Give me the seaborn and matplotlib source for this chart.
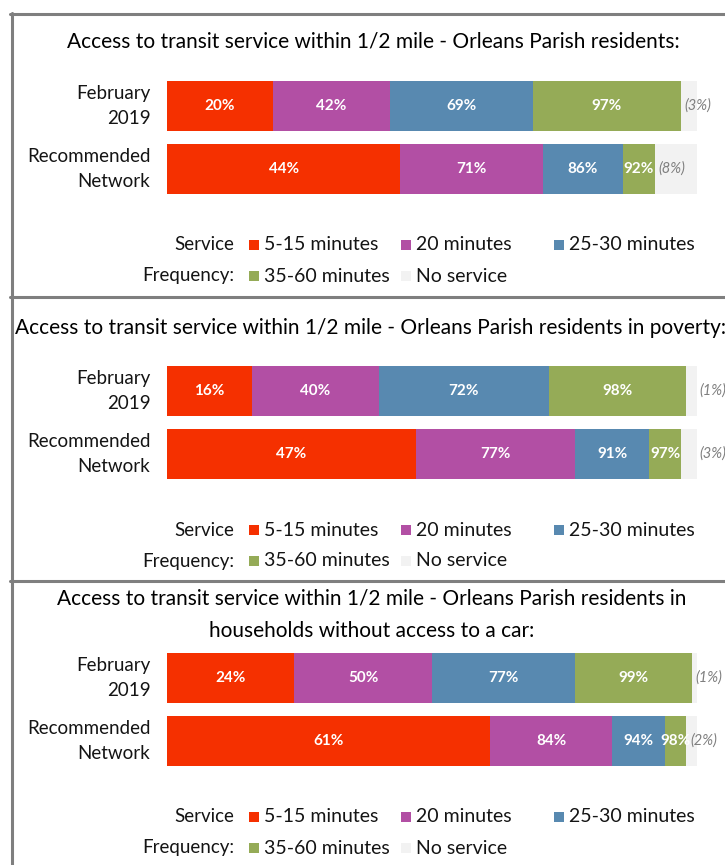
import matplotlib
matplotlib.use('Agg')
import matplotlib.pyplot as plt
import seaborn as sns
import pandas as pd
from matplotlib.patches import Rectangle
from matplotlib.lines import Line2D

sns.set_theme(style='white')
plt.rcParams['font.family'] = ['Lato', 'DejaVu Sans']

# ---------------- data ----------------
periods = ['February\n2019', 'Recommended\nNetwork']
bands = ['5-15 minutes', '20 minutes', '25-30 minutes', '35-60 minutes', 'No service']
band_colors = ['#F53000', '#B24FA4', '#5889B0', '#95AB57', '#F2F2F2']

titles = [
    'Access to transit service within 1/2 mile - Orleans Parish residents:',
    'Access to transit service within 1/2 mile - Orleans Parish residents in poverty:',
    'Access to transit service within 1/2 mile - Orleans Parish residents in\nhouseholds without access to a car:',
]

# cumulative share (%) reached by each frequency band (5-15, 20, 25-30, 35-60)
residents_feb = [20, 42, 69, 97]
residents_rec = [44, 71, 86, 92]
residents_none = [3, 8]

poverty_feb = [16, 40, 72, 98]
poverty_rec = [47, 77, 91, 97]
poverty_none = [1, 3]

nocar_feb = [24, 50, 77, 99]
nocar_rec = [61, 84, 94, 98]
nocar_none = [1, 2]

total = 100

panels = [
    (residents_feb, residents_rec, residents_none),
    (poverty_feb, poverty_rec, poverty_none),
    (nocar_feb, nocar_rec, nocar_none),
]

# ---------------- layout (pixels) ----------------
W, H = 725, 865
fig = plt.figure(figsize=(W / 100, H / 100), dpi=100)
fig.patch.set_facecolor('white')

def fx(x):
    return x / W

def fy(y):
    return 1 - y / H

panel_shift = [0, 285, 572]
bar_x0, bar_x1 = 167, 697
bar_c0, bar_c1 = 106, 169
title_y = [42, 328, 615]
title_x = [373, 15, 372]
title_ha = ['center', 'left', 'center']
legend_rows = [245, 276]
legend_cols = [249, 401, 554]
none_anchor = ['start', 'end', 'start']

text_dark = '#141414'
grey_lab = '#7F7F7F'

for i, (feb, rec, none) in enumerate(panels):
    s = panel_shift[i]
    top = bar_c0 + s - 31.5
    bottom = bar_c1 + s + 31.5
    ax = fig.add_axes([fx(bar_x0), fy(bottom), fx(bar_x1 - bar_x0), (bottom - top) / H])

    rows = []
    for p, vals in zip(periods, [feb, rec]):
        for b, v in zip(bands[:4], vals):
            rows.append({'period': p, 'band': b, 'cum': v})
        rows.append({'period': p, 'band': 'No service', 'cum': total})
    df = pd.DataFrame(rows)

    draw_order = bands[::-1]
    sns.barplot(data=df, x='cum', y='period', hue='band', hue_order=draw_order,
                palette=dict(zip(bands, band_colors)), dodge=False, order=periods,
                width=0.78, orient='h', legend=False, ax=ax, saturation=1,
                linewidth=0, err_kws={'linewidth': 0})

    ax.set_xlim(0, 100)
    ax.set_ylim(1.5, -0.5)
    ax.set_xticks([])
    ax.set_xlabel('')
    ax.set_ylabel('')
    ax.set_yticks([0, 1])
    ax.set_yticklabels(periods, fontsize=13.5, color=text_dark, linespacing=1.55,
                       va='center')
    ax.tick_params(axis='y', length=0, pad=12)
    for sp in ax.spines.values():
        sp.set_visible(False)
    ax.set_facecolor('none')

    # segment labels (cumulative values)
    for r, vals in enumerate([feb, rec]):
        prev = 0
        for v in vals:
            ax.text((prev + v) / 2, r, f'{v}%', ha='center', va='center',
                    color='white', fontsize=11, fontweight='bold')
            prev = v
        nx = vals[-1] + 0.7 if none_anchor[i] == 'start' else total + 0.5
        ax.text(nx, r, f'({none[r]}%)', ha='left', va='center', color=grey_lab,
                fontsize=10.5, fontstyle='italic', clip_on=False)

    # title
    fig.text(fx(title_x[i]), fy(title_y[i]),
             titles[i], ha=title_ha[i], va='center', fontsize=15, color='black',
             linespacing=1.8)

    # legend
    ly0, ly1 = legend_rows[0] + s, legend_rows[1] + s
    fig.text(fx(234), fy(ly0), 'Service', ha='right', va='center', fontsize=13.5, color=text_dark)
    fig.text(fx(234), fy(ly1), 'Frequency:', ha='right', va='center', fontsize=13.5, color=text_dark)
    slots = [(0, 0), (0, 1), (0, 2), (1, 0), (1, 1)]
    for (rr, cc), lab, col in zip(slots, bands, band_colors):
        ly = ly0 if rr == 0 else ly1
        lx = legend_cols[cc]
        fig.patches.append(Rectangle((fx(lx), fy(ly + 5)), fx(10), 10 / H,
                                     transform=fig.transFigure, facecolor=col,
                                     edgecolor='none'))
        fig.text(fx(lx + 15), fy(ly), lab, ha='left', va='center', fontsize=14,
                 color=text_dark)

# frame lines
fc = '#7F7F7F'
lw = 2.2
for y in [14, 297, 581]:
    fig.add_artist(Line2D([fx(10), 1.0], [fy(y), fy(y)], transform=fig.transFigure,
                          color=fc, lw=lw))
fig.add_artist(Line2D([fx(11.5), fx(11.5)], [fy(13), 0], transform=fig.transFigure,
                      color=fc, lw=lw))

fig.savefig('out.png', dpi=100, facecolor='white')
